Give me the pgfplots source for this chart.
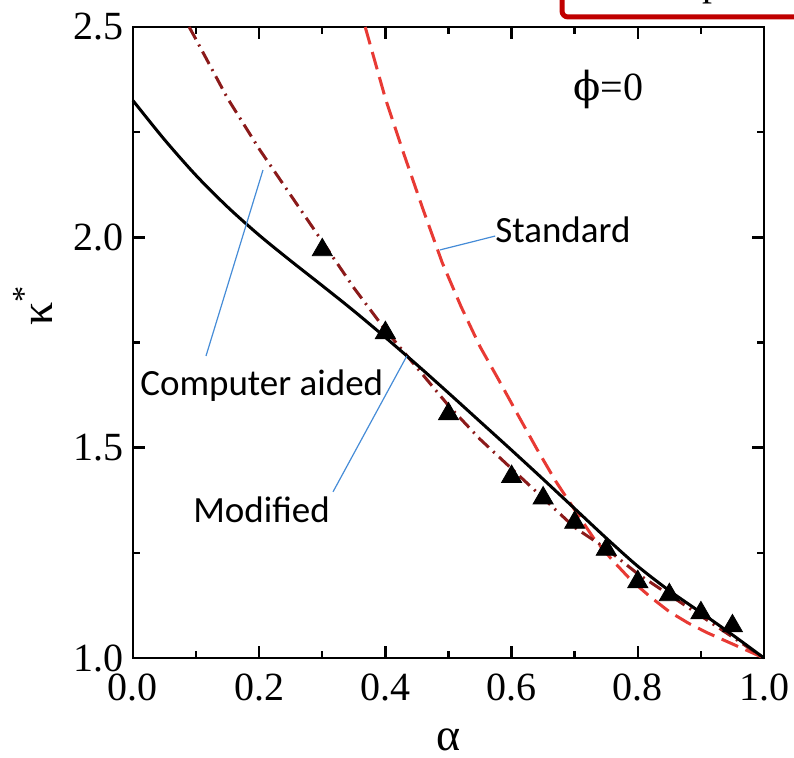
\documentclass[border=0pt]{standalone}
\usepackage{pgfplots}
\pgfplotsset{compat=1.18}
\usepackage{fontspec}
\setmainfont{Liberation Serif}
\newfontfamily\calib{Carlito}
\newfontfamily\phifont{DejaVu Serif}

\definecolor{stdred}{RGB}{232,58,52}
\definecolor{cadred}{RGB}{139,26,26}
\definecolor{leader}{RGB}{70,140,215}
\definecolor{boxred}{RGB}{192,0,0}

\begin{document}
\begin{tikzpicture}
\useasboundingbox (-66.5pt,-50pt) rectangle (330.5pt,329pt);
\begin{axis}[
  at={(0,0)}, anchor=south west,
  scale only axis, width=315.5pt, height=315.5pt,
  xmin=0, xmax=1, ymin=1, ymax=2.5,
  xtick={0,0.2,0.4,0.6,0.8,1.0},
  ytick={1,1.5,2,2.5},
  minor xtick={0.1,0.3,0.5,0.7,0.9},
  minor ytick={1.25,1.75,2.25},
  tick align=inside,
  major tick length=6pt, minor tick length=3.5pt,
  axis line style={line width=1.2pt},
  every tick/.style={black, line width=1.2pt},
  tick label style={font=\fontsize{20}{24}\selectfont},
  xticklabel style={yshift=-4.5pt},
  yticklabel style={xshift=-1pt},
  clip=false,
  /pgf/number format/assume math mode=true,
  /pgf/number format/fixed,
  /pgf/number format/fixed zerofill,
  /pgf/number format/precision=1,
]
% standard model
\addplot[stdred, line width=1.5pt, dash pattern=on 9pt off 4pt] coordinates {
 (0.368,2.50) (0.40,2.33) (0.43,2.195) (0.46,2.065) (0.49,1.94)
 (0.52,1.835) (0.55,1.74) (0.58,1.66) (0.61,1.578) (0.64,1.497)
 (0.67,1.42) (0.70,1.352) (0.73,1.285) (0.76,1.232) (0.79,1.184)
 (0.82,1.145) (0.85,1.11) (0.88,1.083) (0.91,1.06) (0.94,1.04)
 (0.97,1.02) (1.00,1.00)};
% computer aided
\addplot[cadred, line width=1.5pt, dash pattern=on 7pt off 3pt on 1pt off 3pt] coordinates {
 (0.089,2.50) (0.10,2.47) (0.15,2.33) (0.20,2.21) (0.25,2.10)
 (0.30,1.99) (0.35,1.88) (0.40,1.78) (0.45,1.69) (0.50,1.60)
 (0.55,1.52) (0.60,1.45) (0.65,1.38) (0.70,1.31) (0.75,1.26)
 (0.80,1.20) (0.85,1.15) (0.90,1.10) (0.95,1.05) (1.00,1.00)};
% modified model
\addplot[black, line width=1.5pt, smooth] coordinates {
 (0.00,2.325) (0.05,2.232) (0.10,2.147) (0.15,2.072) (0.20,2.005)
 (0.25,1.944) (0.30,1.885) (0.35,1.825) (0.40,1.762) (0.45,1.697)
 (0.50,1.63) (0.55,1.562) (0.60,1.494) (0.65,1.425) (0.70,1.355)
 (0.75,1.285) (0.80,1.218) (0.85,1.16) (0.90,1.108) (0.95,1.055)
 (1.00,1.00)};
% computed points
\addplot[only marks, mark=triangle*, mark size=5.8pt, black] coordinates {
 (0.30,1.97) (0.40,1.773) (0.50,1.58) (0.60,1.431) (0.65,1.38)
 (0.70,1.322) (0.75,1.258) (0.80,1.181) (0.85,1.15) (0.90,1.107)
 (0.95,1.076)};

% leaders and labels
\draw[leader, line width=0.6pt] (axis cs:0.4865,1.970) -- (axis cs:0.574,2.003);
\node[anchor=base west, inner sep=0pt, font=\calib\fontsize{18.5}{22}\selectfont]
  at (axis cs:0.5737,1.987) {Standard};
\draw[leader, line width=0.6pt] (axis cs:0.206,2.160) -- (axis cs:0.1157,1.718);
\node[anchor=base west, inner sep=0pt, font=\calib\fontsize{18.5}{22}\selectfont]
  at (axis cs:0.011,1.625) {Computer aided};
\draw[leader, line width=0.6pt] (axis cs:0.434,1.718) -- (axis cs:0.317,1.395);
\node[anchor=base west, inner sep=0pt, font=\calib\fontsize{18.5}{22}\selectfont]
  at (axis cs:0.095,1.323) {Modified};
\node[anchor=base west, inner sep=0pt, font=\fontsize{20}{24}\selectfont]
  at (axis cs:0.697,2.326) {{\phifont ϕ}=0};

% axis titles
\node[anchor=base, inner sep=0pt, font=\fontsize{23}{27}\selectfont]
  at (axis cs:0.5,0.781) {α};
\node[rotate=90, inner sep=0pt, font=\fontsize{23}{27}\selectfont]
  at (axis cs:-0.158,1.839) {κ\textsuperscript{*}};
\end{axis}
% framed panel along the top edge
\draw[boxred, line width=2.5pt, rounded corners=3pt]
  (214.5pt,345pt) -- (214.5pt,320.5pt) -- (345pt,320.5pt);
\node[anchor=base, inner sep=0pt, font=\fontsize{20}{24}\selectfont] at (289.5pt,331pt) {p};
\end{tikzpicture}
\end{document}
